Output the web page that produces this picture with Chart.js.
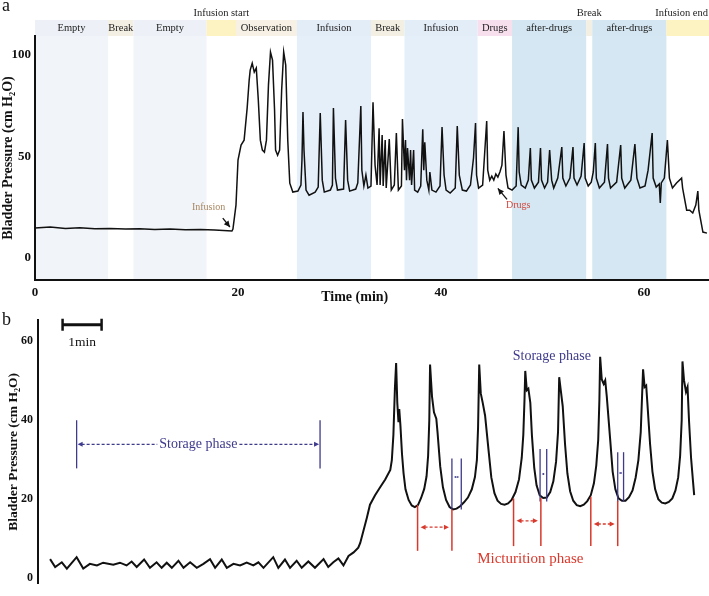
<!DOCTYPE html>
<html>
<head>
<meta charset="utf-8">
<script src="https://cdn.jsdelivr.net/npm/chart.js@4/dist/chart.umd.min.js"></script>
<style>
  body { margin: 0; background: #fff; }
  #wrap { position: relative; width: 709px; height: 596px; }
  #chartA { position: absolute; left: 0; top: 0; }
  #chartB { position: absolute; left: 0; top: 300px; }
</style>
</head>
<body>
<div id="wrap">
  <canvas id="chartA" width="709" height="305"></canvas>
  <canvas id="chartB" width="709" height="296"></canvas>
</div>
<script>
// ---- panel a : whole recording (time in min, pressure in cm H2O) ----
const timeA = [
  0,1.5,3.0,4.4,5.9,7.4,8.9,10.3,11.8,13.3,14.8,16.3,17.7,19.4,
  19.5,19.8,20.0,20.3,20.6,20.9,21.1,21.2,21.4,21.6,21.8,22.0,22.2,22.4,22.6,22.8,23.0,23.2,23.4,23.6,23.7,23.9,24.1,24.3,24.5,24.7,24.9,25.1,25.4,
  25.9,26.2,26.3,26.4,26.5,26.7,27.0,27.6,27.9,28.1,28.3,28.5,29.1,29.3,29.4,29.6,29.8,30.4,30.6,30.8,31.0,31.6,31.8,32.1,32.2,32.4,32.6,32.8,33.1,
  33.3,33.5,33.7,33.9,34.0,34.2,34.3,34.5,34.6,34.9,35.1,35.4,35.6,35.8,36.1,
  36.2,36.4,36.5,36.6,36.7,36.9,37.0,37.1,37.3,37.4,37.7,38.0,38.2,38.3,38.4,38.6,38.8,38.9,39.1,39.5,39.9,40.1,40.3,40.5,40.9,41.4,41.6,41.8,42.1,42.5,42.9,43.2,43.4,43.5,43.7,
  44.1,44.5,44.6,44.8,45.0,45.2,45.4,45.6,45.8,46.0,46.2,46.4,46.6,
  47.0,47.4,47.6,47.7,47.9,48.3,48.6,48.8,48.9,49.2,49.6,49.8,49.9,50.2,50.5,50.7,50.9,51.1,51.5,51.9,52.0,52.3,52.7,53.0,53.1,53.4,53.8,54.1,54.2,
  54.5,54.8,55.0,55.2,55.3,55.6,56.1,56.4,56.5,56.7,57.3,57.7,57.8,58.1,58.7,59.1,59.3,59.6,60.1,60.4,60.8,60.9,61.2,61.5,61.6,61.7,62.0,
  62.3,62.5,62.8,63.2,63.7,63.8,64.2,64.5,64.8,65.1,65.3,65.4,65.8,66.2
];
const pressureA = [
  14.8,15.3,14.6,14.9,14.4,14.6,14.3,14.5,14.1,14.3,14.0,14.1,13.8,13.3,
  14.3,26.1,48.3,55.7,58.1,73.9,87.7,92.6,96.0,91.6,93.6,77.8,58.1,53.2,52.2,58.1,85.2,101.5,97.5,72.9,53.2,50.7,53.2,82.8,101.5,95.1,58.1,36.9,32.5,
  33.0,36.0,48.3,71.9,53.2,33.5,31.0,32.5,35.0,71.4,38.4,32.5,33.5,36.0,73.9,39.4,33.5,34.0,68.0,38.4,33.0,34.0,37.0,74.9,43.3,35.5,40.9,34.5,35.5,
  76.8,45.8,36.0,64.0,36.0,60.6,35.5,58.1,34.5,58.6,33.5,36.0,61.6,33.5,35.5,
  68.5,43.3,58.1,38.4,54.2,38.4,53.2,36.0,53.2,33.5,32.5,35.5,63.5,43.3,57.1,38.4,33.5,42.4,33.5,32.5,35.5,64.5,40.9,33.5,32.0,34.5,65.0,40.9,33.5,33.0,36.0,49.3,66.5,40.9,34.5,
  36.0,67.5,43.3,38.4,40.4,38.4,41.4,39.9,42.4,45.8,62.6,40.9,34.5,
  33.5,35.5,64.5,42.4,36.0,34.5,38.4,54.2,38.4,34.5,37.4,54.2,38.4,34.5,37.4,53.2,38.4,34.5,39.4,54.7,39.4,35.5,39.4,54.7,39.4,36.0,40.4,56.7,39.4,
  35.5,37.4,42.4,56.7,39.4,34.5,37.4,56.2,39.4,34.5,37.4,55.7,39.4,34.5,38.4,56.2,39.4,34.5,35.5,43.3,61.6,39.4,35.0,36.5,27.1,37.0,39.4,
  58.1,39.4,34.5,37.0,39.4,34.5,23.6,23.6,22.2,26.1,33.0,23.6,12.8,12.3
];
const xTicksA = [0, 20, 40, 60];
const yTicksA = [0, 50, 100];

// protocol blocks of panel a (min)
const blockStart = [0, 7.2, 9.7, 16.9, 19.8, 25.8, 33.1, 36.4, 43.6, 47.0, 54.3, 54.9, 62.2];
const blockEnd   = [7.2, 9.7, 16.9, 19.8, 25.8, 33.1, 36.4, 43.6, 47.0, 54.3, 54.9, 62.2, 66.4];
const blockNames = ['Empty', 'Break', 'Empty', 'Infusion start', 'Observation', 'Infusion', 'Break',
                    'Infusion', 'Drugs', 'after-drugs', 'Break', 'after-drugs', 'Infusion end'];
const blockKind  = ['empty', 'break', 'empty', 'edge', 'obs', 'inf', 'break',
                    'inf', 'drugs', 'after', 'break', 'after', 'edge'];

// arrows in panel a
const markNames = ['Infusion', 'Drugs'];
const markText  = [[17.1, 25.1], [47.6, 26.1]];
const markTail  = [[18.5, 19.7], [46.5, 28.9]];
const markHead  = [[19.2, 15.3], [45.6, 34.3]];
const xTitleAt = 31.5;

// ---- panel b : zoom on voiding cycles (time in min, pressure in cm H2O) ----
const timeB = [
  0.31,0.44,0.61,0.74,0.99,1.16,1.33,1.51,1.67,1.93,2.10,2.27,2.40,2.53,2.72,2.87,3.04,3.17,3.30,3.43,3.60,3.73,3.90,4.07,4.24,
  4.41,4.54,4.71,4.84,5.01,5.18,5.35,5.52,5.65,5.78,6.03,6.16,6.33,6.46,6.63,6.76,6.93,7.10,7.32,7.44,7.57,7.70,7.83,7.96,8.09,8.21,
  8.26,8.43,8.51,8.64,8.77,8.90,9.03,9.07,9.11,9.15,9.18,9.21,9.24,9.26,9.29,
  9.33,9.37,9.42,9.50,9.58,9.66,9.74,9.82,9.90,9.96,10.00,10.03,10.05,
  10.10,10.15,10.21,10.24,
  10.31,10.38,10.46,10.55,10.64,10.73,10.82,10.92,11.02,11.12,11.20,11.25,11.28,11.31,
  11.35,11.40,11.46,
  11.55,11.62,11.70,11.78,11.87,11.96,12.05,12.14,12.24,12.33,12.40,12.44,12.47,12.49,
  12.53,12.57,12.62,12.66,
  12.72,12.78,12.86,12.95,13.04,13.13,13.21,13.28,13.33,13.36,
  13.40,13.45,13.51,
  13.57,13.64,13.72,13.81,13.90,13.99,14.08,14.17,14.25,14.31,14.36,14.39,14.41,
  14.45,14.50,14.54,14.58,14.67,
  14.73,14.80,14.88,14.97,15.06,15.15,15.24,15.32,15.39,15.45,15.48,15.51,
  15.55,15.59,15.62,15.69,
  15.75,15.82,15.90,15.99,16.08,16.17,16.26,16.34,16.41,16.46,16.50,16.52,
  16.56,16.61,16.65,16.69,16.74,16.79,16.82
];
const pressureB = [
  4.8,2.8,4.0,2.4,5.3,2.4,3.6,3.2,3.9,3.4,3.9,3.2,4.2,2.8,4.7,2.6,4.0,2.6,3.9,2.6,4.4,2.6,4.0,2.6,3.6,
  4.8,2.6,4.7,2.6,3.6,3.2,3.9,3.2,4.0,2.6,5.3,2.6,4.7,2.6,4.4,2.6,4.2,2.6,4.8,2.8,4.0,5.0,3.2,5.6,6.5,7.7,
  8.9,15.3,18.6,21.0,23.0,25.0,27.4,29.9,36.3,48.4,54.5,44.4,39.5,42.8,38.7,
  31.5,26.6,22.5,19.8,18.4,18.0,18.5,20.3,22.6,25.8,31.0,40.0,54.1,
  46.0,42.0,40.4,37.1,
  28.3,23.0,19.8,18.0,17.4,17.6,18.2,19.2,20.4,22.5,25.6,29.9,38.0,54.1,
  46.8,44.4,41.2,
  32.3,25.5,21.5,19.6,18.8,18.6,18.9,19.8,21.8,25.0,30.5,36.3,45.0,52.5,
  47.6,48.0,44.4,36.3,
  28.0,23.5,21.0,20.3,20.4,21.8,24.5,29.5,37.0,50.9,
  47.6,43.6,33.9,
  26.5,22.0,19.6,18.5,18.2,18.6,19.5,21.0,24.0,28.5,35.0,45.0,56.1,
  50.4,49.2,50.1,46.0,34.7,
  27.0,22.5,20.2,19.6,19.6,20.5,22.2,25.5,29.9,37.0,45.0,52.9,
  48.4,48.8,44.4,33.9,
  27.0,22.5,20.0,19.1,18.9,19.3,20.2,22.2,25.5,31.0,40.0,54.9,
  50.1,47.2,48.4,39.5,30.5,24.5,21.0
];
const yTicksB = [0, 20, 40, 60];

// storage phase (long one, left)
const storageSpan = [0.99, 7.23];
const storageSpanTop = 40, storageSpanBottom = 27.8, storageSpanLevel = 33.9;
// short storage phases between voids
const storageCutFrom = [10.61, 12.87, 14.86];
const storageCutTo   = [10.85, 13.04, 15.01];
const storageCutTop  = [30.3, 32.7, 31.9];
const storageCutBottom = [17.4, 19.4, 19.4];
const storageCutLevel = [25.6, 26.4, 26.6];
const storageLabel = [13.17, 56.2];
// micturition phases
const voidFrom = [9.73, 12.19, 14.17];
const voidTo   = [10.61, 12.89, 14.86];
const voidTopFrom = [18.5, 20.2, 20.6];
const voidTopTo   = [17.4, 20.3, 19.6];
const voidBottom  = [6.9, 8.1, 8.1];
const voidLevel   = [12.9, 14.5, 13.7];
const voidLabel = [12.62, 4.7];
// 1 min scale bar
const scaleBar = [0.63, 1.63];
const scaleBarLevel = 64.2;

const serif = '"Liberation Serif", "Times New Roman", serif';
const ink = '#111';
const blue = '#3e3a8c';
const red = '#d8392c';

const blockStyle = {
  empty: { head: '#edf1f7', body: '#f1f4f8' },
  break: { head: '#f4efe3', body: null },
  edge:  { head: '#fcf2c2', body: null },
  obs:   { head: '#f6f1e4', body: null },
  inf:   { head: '#e3edf8', body: '#e5eff9' },
  drugs: { head: '#f8dfee', body: null },
  after: { head: '#d3e6f1', body: '#d4e7f2' }
};

function head(ctx, x, y, angle, size) {
  ctx.save();
  ctx.translate(x, y);
  ctx.rotate(angle);
  ctx.beginPath();
  ctx.moveTo(0, 0);
  ctx.lineTo(-size, -size * 0.5);
  ctx.lineTo(-size, size * 0.5);
  ctx.closePath();
  ctx.fill();
  ctx.restore();
}

function line(ctx, x1, y1, x2, y2) {
  ctx.beginPath();
  ctx.moveTo(x1, y1);
  ctx.lineTo(x2, y2);
  ctx.stroke();
}

// dashed arrow with heads at both ends, pointing outwards
function twoWay(ctx, x1, x2, y, size) {
  ctx.save();
  ctx.setLineDash([3, 2]);
  line(ctx, x1 + size, y, x2 - size, y);
  ctx.restore();
  head(ctx, x1 + 1, y, Math.PI, size);
  head(ctx, x2 - 1, y, 0, size);
}

const blocksPlugin = {
  id: 'blocks',
  beforeDraw(chart) {
    const { ctx, chartArea: a, scales: { x } } = chart;
    ctx.save();
    blockStart.forEach((s, i) => {
      const st = blockStyle[blockKind[i]];
      const x1 = x.getPixelForValue(s), x2 = x.getPixelForValue(blockEnd[i]);
      ctx.fillStyle = st.head;
      ctx.fillRect(x1, a.top - 16, x2 - x1, 16);
      if (st.body) {
        ctx.fillStyle = st.body;
        ctx.fillRect(x1, a.top, x2 - x1, a.bottom - a.top);
      }
    });
    ctx.restore();
  },
  afterDraw(chart) {
    const { ctx, chartArea: a, scales: { x, y } } = chart;
    ctx.save();
    ctx.font = '10.5px ' + serif;
    ctx.fillStyle = '#222';
    ctx.textAlign = 'center';
    ctx.textBaseline = 'middle';
    blockNames.forEach((name, i) => {
      const x1 = x.getPixelForValue(blockStart[i]), x2 = x.getPixelForValue(blockEnd[i]);
      const w = ctx.measureText(name).width;
      let cx = (x1 + x2) / 2;
      if (w > x2 - x1 + 4) {
        cx = Math.min(cx, chart.width - 1 - w / 2);
        ctx.fillText(name, cx, a.top - 23);
      } else {
        ctx.fillText(name, cx, a.top - 8);
      }
    });

    // arrows
    ctx.font = '10px ' + serif;
    const colors = ['#a8865f', '#d0463c'];
    markNames.forEach((m, i) => {
      ctx.fillStyle = colors[i];
      ctx.fillText(m, x.getPixelForValue(markText[i][0]), y.getPixelForValue(markText[i][1]));
      const tx = x.getPixelForValue(markTail[i][0]), ty = y.getPixelForValue(markTail[i][1]);
      const hx = x.getPixelForValue(markHead[i][0]), hy = y.getPixelForValue(markHead[i][1]);
      ctx.strokeStyle = ink;
      ctx.fillStyle = ink;
      ctx.lineWidth = 1.3;
      line(ctx, tx, ty, hx, hy);
      head(ctx, hx, hy, Math.atan2(hy - ty, hx - tx), 6);
    });

    // x axis title
    ctx.font = 'bold 14px ' + serif;
    ctx.fillStyle = ink;
    ctx.fillText('Time (min)', x.getPixelForValue(xTitleAt), a.bottom + 17);

    ctx.font = '18px ' + serif;
    ctx.textAlign = 'left';
    ctx.textBaseline = 'alphabetic';
    ctx.fillText('a', 2, 11);
    ctx.restore();
  }
};

const notesPlugin = {
  id: 'notes',
  afterDatasetsDraw(chart) {
    const { ctx, scales: { x, y } } = chart;
    const px = v => x.getPixelForValue(v), py = v => y.getPixelForValue(v);
    ctx.save();
    ctx.textAlign = 'center';
    ctx.textBaseline = 'middle';

    // long storage phase
    ctx.strokeStyle = blue;
    ctx.fillStyle = blue;
    ctx.lineWidth = 1.3;
    const sx1 = px(storageSpan[0]), sx2 = px(storageSpan[1]);
    storageSpan.forEach(t => line(ctx, px(t), py(storageSpanTop), px(t), py(storageSpanBottom)));
    ctx.font = '14px ' + serif;
    const label = 'Storage phase';
    const w = ctx.measureText(label).width, cx = (sx1 + sx2) / 2, ly = py(storageSpanLevel);
    ctx.fillText(label, cx, ly);
    ctx.save();
    ctx.setLineDash([3, 2]);
    line(ctx, sx1 + 5, ly, cx - w / 2 - 2, ly);
    line(ctx, cx + w / 2 + 2, ly, sx2 - 5, ly);
    ctx.restore();
    head(ctx, sx1 + 1, ly, Math.PI, 5);
    head(ctx, sx2 - 1, ly, 0, 5);

    // short storage phases
    storageCutFrom.forEach((t, i) => {
      const a = px(t), b = px(storageCutTo[i]);
      line(ctx, a, py(storageCutTop[i]), a, py(storageCutBottom[i]));
      line(ctx, b, py(storageCutTop[i]), b, py(storageCutBottom[i]));
      ctx.lineWidth = 0.8;
      twoWay(ctx, a + 1, b - 1, py(storageCutLevel[i]), 2);
      ctx.lineWidth = 1.3;
    });
    ctx.fillText('Storage phase', px(storageLabel[0]), py(storageLabel[1]));

    // micturition phases
    ctx.strokeStyle = red;
    ctx.fillStyle = red;
    voidFrom.forEach((t, i) => {
      const a = px(t), b = px(voidTo[i]);
      ctx.lineWidth = 1.5;
      line(ctx, a, py(voidTopFrom[i]), a, py(voidBottom[i]));
      line(ctx, b, py(voidTopTo[i]), b, py(voidBottom[i]));
      ctx.lineWidth = 1.3;
      twoWay(ctx, a + 2, b - 2, py(voidLevel[i]), 5);
    });
    ctx.font = '15px ' + serif;
    ctx.fillText('Micturition phase', px(voidLabel[0]), py(voidLabel[1]));

    // scale bar
    ctx.strokeStyle = ink;
    ctx.fillStyle = ink;
    ctx.lineWidth = 3;
    const b1 = px(scaleBar[0]), b2 = px(scaleBar[1]), by = py(scaleBarLevel);
    line(ctx, b1, by, b2, by);
    ctx.lineWidth = 2.5;
    line(ctx, b1, by - 6, b1, by + 6);
    line(ctx, b2, by - 6, b2, by + 6);
    ctx.font = '13.5px ' + serif;
    ctx.fillText('1min', (b1 + b2) / 2, by + 18);

    ctx.font = '18px ' + serif;
    ctx.textAlign = 'left';
    ctx.textBaseline = 'alphabetic';
    ctx.fillText('b', 2, 25);
    ctx.restore();
  }
};

const chartA = new Chart(document.getElementById('chartA'), {
  type: 'line',
  data: {
    datasets: [{
      data: timeA.map((t, i) => ({ x: t, y: pressureA[i] })),
      borderColor: ink,
      borderWidth: 1.5,
      pointRadius: 0,
      tension: 0
    }]
  },
  options: {
    responsive: false,
    animation: false,
    events: [],
    layout: { padding: { top: 36, left: 0, right: 0, bottom: 0 } },
    plugins: { legend: { display: false }, tooltip: { enabled: false } },
    scales: {
      x: {
        type: 'linear', min: 0, max: 66.4,
        grid: { display: false, drawTicks: false },
        border: { color: ink, width: 2 },
        afterBuildTicks: s => { s.ticks = xTicksA.map(v => ({ value: v })); },
        afterFit: s => { s.height = 25; },
        ticks: { font: { family: serif, size: 13, weight: 'bold' }, color: ink, padding: 5, maxRotation: 0 }
      },
      y: {
        min: -10.8, max: 109.4,
        grid: { display: false, drawTicks: false },
        border: { color: ink, width: 2 },
        afterBuildTicks: s => { s.ticks = yTicksA.map(v => ({ value: v })); },
        afterFit: s => { s.width = 35; },
        ticks: { font: { family: serif, size: 13, weight: 'bold' }, color: ink, padding: 4 },
        title: { display: true, text: 'Bladder Pressure (cm H₂O)', color: ink, padding: 0,
                 font: { family: serif, size: 14, weight: 'bold' } }
      }
    }
  },
  plugins: [blocksPlugin]
});

const chartB = new Chart(document.getElementById('chartB'), {
  type: 'line',
  data: {
    datasets: [{
      data: timeB.map((t, i) => ({ x: t, y: pressureB[i] })),
      borderColor: ink,
      borderWidth: 2,
      pointRadius: 0,
      tension: 0
    }]
  },
  options: {
    responsive: false,
    animation: false,
    events: [],
    layout: { padding: { top: 20, left: 0, right: 0, bottom: 0 } },
    plugins: { legend: { display: false }, tooltip: { enabled: false } },
    scales: {
      x: { type: 'linear', min: 0, max: 17.2, display: false },
      y: {
        min: -1.45, max: 65.4,
        grid: { display: false, drawTicks: false },
        border: { color: ink, width: 2 },
        afterBuildTicks: s => { s.ticks = yTicksB.map(v => ({ value: v })); },
        afterFit: s => { s.width = 38; },
        ticks: { font: { family: serif, size: 12, weight: 'bold' }, color: ink, padding: 5 },
        title: { display: true, text: 'Bladder Pressure (cm H₂O)', color: ink, padding: { top: 5, bottom: 0 },
                 font: { family: serif, size: 13.5, weight: 'bold' } }
      }
    }
  },
  plugins: [notesPlugin]
});
</script>
</body>
</html>
